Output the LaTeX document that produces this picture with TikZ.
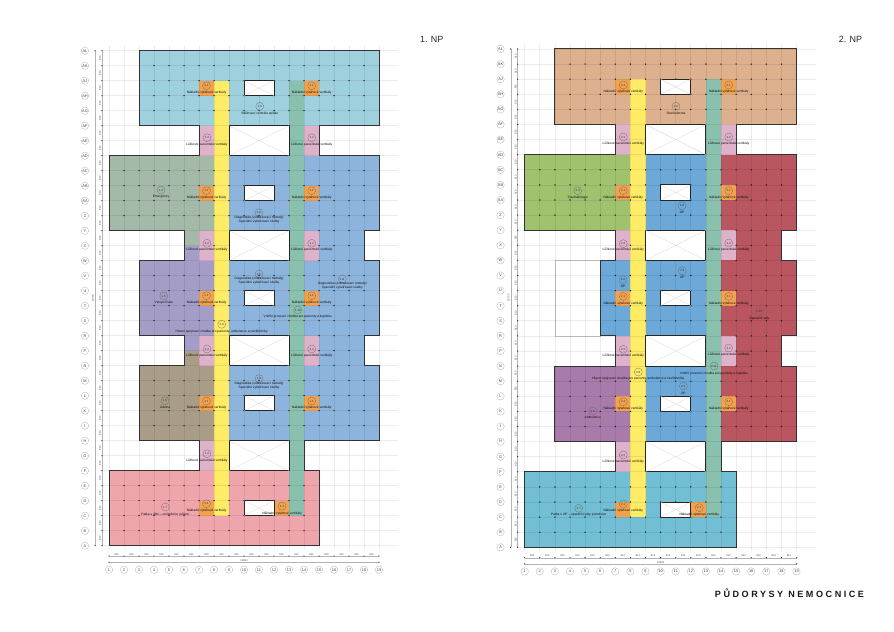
\documentclass[tikz,border=0pt]{standalone}
\usepackage{fontspec}
\setmainfont{Liberation Sans}
\newfontfamily\titlefont[LetterSpace=28]{Liberation Sans}
\definecolor{cPink}{HTML}{DFB2CB}
\definecolor{cOrange}{HTML}{F2A24E}
\definecolor{cYellow}{HTML}{FFEC66}
\definecolor{cTeal}{HTML}{89C0AE}
\definecolor{cTopA}{HTML}{9FD0DE}
\definecolor{cSage}{HTML}{A5B9A8}
\definecolor{cBlueA}{HTML}{8DB4DD}
\definecolor{cPurpleA}{HTML}{A39DC8}
\definecolor{cTaupe}{HTML}{A99D88}
\definecolor{cRose}{HTML}{EFA5AC}
\definecolor{cTan}{HTML}{DDB08E}
\definecolor{cGreenB}{HTML}{A0C26F}
\definecolor{cBlueB}{HTML}{6CA8D8}
\definecolor{cRed}{HTML}{B9565F}
\definecolor{cPurpleB}{HTML}{A97BAA}
\definecolor{cCyanB}{HTML}{72BFD5}
\tikzset{
  gl/.style={black,opacity=0.075,line width=0.7bp},
  outl/.style={draw=black!80,line width=1bp,line join=miter},
  voidbox/.style={fill=white,draw=black!85,line width=0.95bp},
  xline/.style={draw=black!18,line width=0.25bp},
  axc/.style={circle,draw=black!35,line width=0.25bp,fill=white,minimum size=7.4bp,inner sep=0pt,text=black!75,font=\fontsize{3.9}{3.9}\selectfont},
  dimt/.style={text=black!70,font=\fontsize{2.6}{2.6}\selectfont,inner sep=0pt},
  diml/.style={draw=black!30,line width=0.3bp},
  zcirc/.style={circle,draw=black!60,line width=0.25bp,minimum size=8bp,inner sep=0pt,text=black!80,font=\fontsize{3}{3}\selectfont},
  ztext/.style={inner sep=0pt,align=center,text=black!95,font=\fontsize{3.25}{4.3}\selectfont},
  sheet/.style={inner sep=0pt,text=black!85,font=\fontsize{9}{9}\selectfont}
}
\newcount\nodenum
\newcommand{\zn}[5]{\global\advance\nodenum by 1
  \node[zcirc] (c\the\nodenum) at (#1,#2) {#3};
  \node[ztext] (l\the\nodenum) at (#1,#4) {#5};}
\newcommand{\gridlayer}{%
  \foreach \ii in {0,...,18} \draw[gl] (\ii,-0.25) -- (\ii,33.3);
  \foreach \jj in {0,...,33} \draw[gl] (-0.45,\jj) -- (19.27,\jj);}
\newcommand{\dotrange}[2]{\foreach \jj in {#1} \foreach \ii in {#2} \fill[black!90] (\ii,\jj) circle[radius=0.05];}
\newcommand{\holes}{%
  \foreach \jj in {26,19,12,5} {
    \draw[voidbox] (8,\jj) rectangle (12,{\jj+2});
    \draw[xline] (8,\jj) -- (12,{\jj+2}) (8,{\jj+2}) -- (12,\jj);}
  \foreach \jj in {30,23,16,9,2} {
    \draw[voidbox] (9,\jj) rectangle (11,{\jj+1});
    \draw[xline] (9,\jj) -- (11,{\jj+1}) (9,{\jj+1}) -- (11,\jj);}}
\newcommand{\services}{%
  \foreach \jj in {26,19,12,5} \fill[cPink] (6,\jj) rectangle (7,{\jj+2});
  \foreach \jj in {26,19,12} \fill[cPink] (13,\jj) rectangle (14,{\jj+2});
  \foreach \jj in {30,23,16,9,2} \fill[cOrange] (6,\jj) rectangle (7,{\jj+1});
  \foreach \jj in {30,23,16,9} \fill[cOrange] (13,\jj) rectangle (14,{\jj+1});
  \fill[cOrange] (11,2) rectangle (12,3);
  \fill[cYellow] (7,2) rectangle (8,31);
  \fill[cTeal] (12,2) rectangle (13,31);}
\newcommand{\axes}[2]{%
  \draw[diml] (-0.93,0) -- (-0.93,33);
  \draw[diml] (-0.47,0) -- (-0.47,33);
  \draw[diml] (0,-0.69) -- (18,-0.69);
  \draw[diml] (0,-1.1) -- (18,-1.1);
  \foreach \jj [count=\kk from 0] in {A,B,C,D,E,F,G,H,I,K,L,M,N,P,R,S,T,U,V,W,X,Y,Z,AA,AB,AC,AD,AE,AF,AG,AH,AJ,AK,AL} {
    \node[axc] (r#1\kk) at (-1.6,\kk) {\jj};
    \fill[black!80] (-0.47,\kk) circle[radius=0.045];}
  \foreach \kk in {1,...,19} {
    \pgfmathtruncatemacro{\uu}{\kk-1}
    \node[axc] (q#1\kk) at (\uu,-1.6) {\kk};
    \fill[black!80] (\uu,-0.69) circle[radius=0.045];}
  \foreach \kk in {0,...,32} \node[dimt,rotate=90] (dv#1\kk) at (-0.6,{\kk+0.5}) {810};
  \foreach \kk in {0,...,17} \node[dimt] (dh#1\kk) at ({\kk+0.5},-0.57) {810};
  \fill[black!80] (-0.93,0) circle[radius=0.045] (-0.93,33) circle[radius=0.045];
  \fill[black!80] (0,-1.1) circle[radius=0.045] (18,-1.1) circle[radius=0.045];
  \node[dimt,rotate=90] (dvv#1) at (-1.07,16.5) {26730};
  \node[dimt] (dhh#1) at (9,-0.99) {14580};}
\begin{document}
\begin{tikzpicture}[x=1bp,y=-1bp]
\useasboundingbox (0,0) rectangle (894,632);
\fill[white] (0,0) rectangle (894,632);
% ---------- 1. NP ----------
\begin{scope}[shift={(109,545.7)},x=15bp,y=15bp]
  \fill[cTopA] (2,28) rectangle (18,33);
  \fill[cSage] (0,21) rectangle (7,26);
  \fill[cSage] (5,20) rectangle (6,21);
  \fill[cBlueA] (7,21) rectangle (18,26);
  \fill[cBlueA] (8,19) rectangle (17,21);
  \fill[cBlueA] (7,14) rectangle (18,19);
  \fill[cBlueA] (8,12) rectangle (17,14);
  \fill[cBlueA] (7,7) rectangle (18,12);
  \fill[cPurpleA] (5,19) rectangle (6,20);
  \fill[cPurpleA] (2,14) rectangle (7,19);
  \fill[cPurpleA] (5,13) rectangle (6,14);
  \fill[cTaupe] (5,12) rectangle (6,13);
  \fill[cTaupe] (2,7) rectangle (7,12);
  \fill[cRose] (0,0) rectangle (14,5);
  \services
  \gridlayer
  \dotrange{29,30,31,32}{3,...,17}
  \dotrange{22,23,24,25}{1,...,17}
  \dotrange{15,16,17,18}{3,...,17}
  \dotrange{8,9,10,11}{3,...,17}
  \dotrange{1,2,3,4}{1,...,13}
  \dotrange{12,13,14,19,20,21}{14,15,16}
  \dotrange{13,20}{7}
  \holes
  \draw[outl] (2,33)--(18,33)--(18,28)--(14,28)--(14,26)--(18,26)--(18,21)--(17,21)--(17,19)--(18,19)--(18,14)--(17,14)--(17,12)--(18,12)--(18,7)--(13,7)--(13,5)--(14,5)--(14,0)--(0,0)--(0,5)--(6,5)--(6,7)--(2,7)--(2,12)--(5,12)--(5,14)--(2,14)--(2,19)--(5,19)--(5,21)--(0,21)--(0,26)--(6,26)--(6,28)--(2,28)--cycle;
  \axes{a}{1}
\end{scope}
% ---------- 2. NP ----------
\begin{scope}[shift={(524.7,547.3)},x=15.1bp,y=15.1bp]
  \draw[draw=black!22,line width=0.4bp] (2,14) rectangle (5,19);
  \fill[cTan] (2,28) rectangle (18,33);
  \fill[cGreenB] (0,21) rectangle (7,26);
  \fill[cBlueB] (7,7) rectangle (13,26);
  \fill[cBlueB] (5,14) rectangle (7,19);
  \fill[cRed] (13,21) rectangle (18,26);
  \fill[cRed] (13,19) rectangle (17,21);
  \fill[cRed] (13,14) rectangle (18,19);
  \fill[cRed] (13,12) rectangle (17,14);
  \fill[cRed] (13,7) rectangle (18,12);
  \fill[cPurpleB] (2,7) rectangle (7,12);
  \fill[cCyanB] (0,0) rectangle (14,5);
  \services
  \gridlayer
  \dotrange{29,30,31,32}{3,...,17}
  \dotrange{22,23,24,25}{1,...,17}
  \dotrange{15,16,17,18}{6,...,17}
  \dotrange{8,9,10,11}{3,...,17}
  \dotrange{1,2,3,4}{1,...,13}
  \dotrange{12,13,14,19,20,21}{14,15,16}
  \dotrange{13,20}{7}
  \holes
  \draw[outl] (2,33)--(18,33)--(18,28)--(14,28)--(14,26)--(18,26)--(18,21)--(17,21)--(17,19)--(18,19)--(18,14)--(17,14)--(17,12)--(18,12)--(18,7)--(13,7)--(13,5)--(14,5)--(14,0)--(0,0)--(0,5)--(6,5)--(6,7)--(2,7)--(2,12)--(6,12)--(6,14)--(5,14)--(5,19)--(6,19)--(6,21)--(0,21)--(0,26)--(6,26)--(6,28)--(2,28)--cycle;
  \axes{b}{2}
\end{scope}
% ---------- labels 1. NP ----------
\def\ovt{Nákladní výtahové vertikály}
\def\pvt{Lůžkové pacientské vertikály}
\def\dgn{Diagnostika (zobrazovací metody)\\Speciální vyšetřovací služby}
\zn{206.5}{85.7}{1.1}{92.5}{\ovt}
\zn{206.5}{190.7}{1.1}{197.5}{\ovt}
\zn{206.5}{295.7}{1.1}{302.3}{\ovt}
\zn{206.5}{401}{1.1}{407.7}{\ovt}
\zn{206.5}{503.7}{1.1}{510.3}{\ovt}
\zn{311.7}{85.7}{1.1}{92.5}{\ovt}
\zn{311.7}{190.7}{1.1}{197.5}{\ovt}
\zn{311.7}{295.7}{1.1}{302.3}{\ovt}
\zn{311.7}{401}{1.1}{407.7}{\ovt}
\zn{282}{506.3}{1.1}{513.3}{\ovt}
\zn{207}{137.7}{1.2}{145}{\pvt}
\zn{207}{243.3}{1.2}{250}{\pvt}
\zn{207}{349}{1.2}{355.7}{\pvt}
\zn{207}{453.7}{1.2}{460.3}{\pvt}
\zn{311.7}{137.7}{1.2}{145}{\pvt}
\zn{311.7}{243.3}{1.2}{250}{\pvt}
\zn{311.7}{349}{1.2}{355.7}{\pvt}
\zn{259.7}{106.3}{1.3}{113.3}{Sdělovací centrála spitálu}
\zn{161}{190}{1.4}{196.7}{Emergency}
\zn{163.7}{296}{1.5}{302.3}{Vstupní hala}
\zn{165}{400.7}{1.6}{407.7}{Jídelna}
\zn{165.3}{507}{1.7}{514.3}{Patka s jídlo – umístěním, péčem}
\zn{259}{212.7}{1.8}{219.5}{\dgn}
\zn{259}{274}{1.8}{280.5}{\dgn}
\zn{342.3}{279}{1.8}{285.7}{\dgn}
\zn{259}{378.7}{1.8}{385.3}{\dgn}
\zn{221.7}{324.3}{1.9}{331.3}{Hlavní spojovací chodba pro pacienty, ambulance a návštěvníky}
\zn{297.7}{310}{1.10}{317}{Vnitřní provozní chodba pro pacienty a logistiku}
% ---------- labels 2. NP ----------
\zn{623.3}{85}{2.1}{91.7}{\ovt}
\zn{623.3}{190.7}{2.1}{197.3}{\ovt}
\zn{623.3}{296.4}{2.1}{303.2}{\ovt}
\zn{623.3}{401.7}{2.1}{408.7}{\ovt}
\zn{623.3}{504}{2.1}{510.3}{\ovt}
\zn{728.7}{85}{2.1}{91.7}{\ovt}
\zn{728.7}{190.7}{2.1}{197.3}{\ovt}
\zn{728.7}{296.4}{2.1}{303.2}{\ovt}
\zn{728.7}{401.7}{2.1}{408.7}{\ovt}
\zn{699.3}{507.7}{2.1}{515}{\ovt}
\zn{623.3}{137}{2.2}{143.7}{\pvt}
\zn{623.3}{243.7}{2.2}{250}{\pvt}
\zn{623.3}{349.3}{2.2}{355.7}{\pvt}
\zn{623.3}{455}{2.2}{461.3}{\pvt}
\zn{728.7}{137}{2.2}{143.7}{\pvt}
\zn{728.7}{243}{2.2}{249.3}{\pvt}
\zn{728.7}{348}{2.2}{354.7}{\pvt}
\zn{676}{106.3}{2.3}{113}{Sterilizátorna}
\zn{577.7}{190.7}{2.4}{197.3}{Traumatologie}
\zn{682}{205.7}{2.9}{212}{JIP}
\zn{623}{279.7}{2.9}{286.3}{JIP}
\zn{682.3}{270.7}{2.9}{277.7}{JIP}
\zn{683.3}{386}{2.9}{393}{JIP}
\zn{592.7}{411}{2.6}{417.7}{Ambulance}
\zn{759.3}{311.7}{2.10}{318.7}{Operační sály}
\zn{578.7}{508.3}{2.7}{515}{Patka s JIP – operační sály, porodnice}
\zn{638.3}{372}{2.8}{378.7}{Hlavní spojovací chodba pro pacienty, ambulance a návštěvníky}
\zn{714}{366}{2.11}{373.3}{Vnitřní provozní chodba pro pacienty a logistiku}
% ---------- sheet titles ----------
\node[sheet] (np1) at (431.7,39.3) {1. NP};
\node[sheet] (np2) at (850.5,39.3) {2. NP};
\node[inner sep=0pt,text=black!90,font=\titlefont\bfseries\fontsize{9.1}{9.1}\selectfont] (maintitle) at (789.5,592.7) {PŮDORYSY NEMOCNICE};
\end{tikzpicture}
\end{document}
